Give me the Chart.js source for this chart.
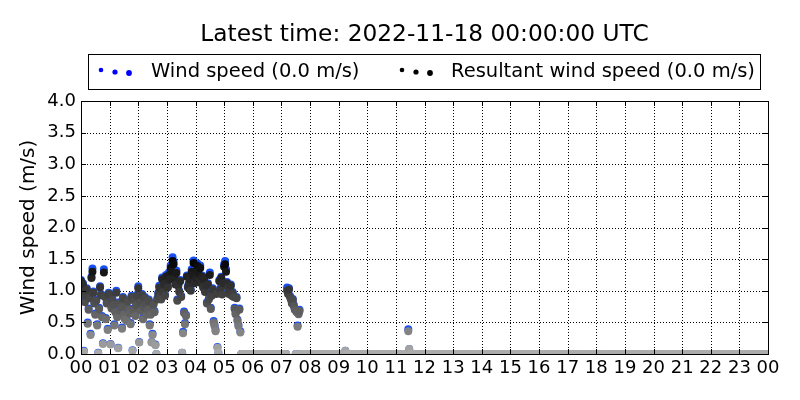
<!DOCTYPE html>
<html>
<head>
<meta charset="utf-8">
<title>Wind speed</title>
<script src="https://cdn.jsdelivr.net/npm/chart.js@4.4.1/dist/chart.umd.min.js"></script>
<style>
  html, body { margin: 0; padding: 0; background: #fff; }
  #wrap { position: relative; width: 800px; height: 400px; }
</style>
</head>
<body>
<div id="wrap"><canvas id="windChart" width="800" height="400"></canvas></div>
<script>
const titleText = 'Latest time: 2022-11-18 00:00:00 UTC';
const windLabel = 'Wind speed (0.0 m/s)';
const resultantLabel = 'Resultant wind speed (0.0 m/s)';
const yAxisLabel = 'Wind speed (m/s)';
const hourLabels = ['00', '01', '02', '03', '04', '05', '06', '07', '08', '09', '10', '11',
  '12', '13', '14', '15', '16', '17', '18', '19', '20', '21', '22', '23', '00'];
const yTickValues = [0, 0.5, 1, 1.5, 2, 2.5, 3, 3.5, 4];
const sampleMinutes = 2; // one value every 2 minutes, one row per hour

// wind speed (m/s)
const windSpeed = [
  1.17, 1.00, 1.12, 0.05, 0.84, 0.94, 1.04, 0.50, 0.72, 0.90, 0.32, 1.22, 1.35, 0.99, 0.82, 0.64, 0.86, 0.47, 0.02, 0.73, 1.07, 0.95, 0.60, 0.17, 1.34, 0.92, 0.57, 0.82, 0.40, 0.97,
  0.95, 0.16, 0.74, 0.87, 0.80, 0.47, 0.68, 1.00, 0.60, 0.10, 0.82, 0.70, 0.76, 0.42, 0.90, 0.64, 0.57, 0.77, 0.54, 0.85, 0.72, 0.66, 0.49, 0.92, 0.06, 0.72, 0.86, 0.62, 0.79, 0.94,
  1.07, 0.19, 0.84, 0.70, 0.95, 0.57, 0.76, 0.90, 0.81, 0.64, 0.72, 0.86, 0.47, 0.64, 0.19, 0.32, 0.80, 0.68, 0.15, 0.00, 0.88, 0.97, 1.08, 0.92, 0.88, 1.21, 1.00, 1.12, 0.94, 1.25,
  1.14, 1.07, 1.29, 1.20, 1.40, 1.34, 1.53, 1.46, 1.22, 1.12, 1.32, 0.86, 1.10, 1.00, 1.17, 0.92, 0.02, 0.35, 0.67, 0.49, 0.62, 1.24, 1.07, 1.12, 1.20, 1.02, 1.34, 1.29, 1.48, 1.14,
  1.29, 1.22, 1.43, 1.32, 1.17, 1.40, 1.14, 1.24, 1.07, 1.20, 1.00, 1.10, 0.82, 1.12, 0.88, 1.29, 0.73, 0.94, 1.04, 0.52, 0.46, 0.38, 0.97, 0.11, 0.02, 1.17, 1.04, 1.22, 0.96, 1.14,
  1.42, 1.47, 1.34, 1.14, 1.07, 0.97, 1.02, 1.10, 0.94, 0.98, 0.92, 0.73, 0.65, 0.90, 0.54, 0.46, 0.72, 0.36, 0, 0, 0, 0, 0, 0, 0, 0, 0, 0, 0, 0,
  0, 0, 0, 0, 0, 0, 0, 0, 0, 0, 0, 0, 0, 0, 0, 0, 0, 0, 0, 0, 0, 0, 0, 0, 0, 0, 0, 0, 0, 0,
  0, 0, 0, 0, 0, 0, 1.05, 0.97, 1.04, 0.92, 0.88, 0.82, 0.87, 0.78, 0.72, 0, 0.68, 0.45, 0.65, 0.70, 0, 0, 0, 0, 0, 0, 0, 0, 0, 0,
  0, 0, 0, 0, 0, 0, 0, 0, 0, 0, 0, 0, 0, 0, 0, 0, 0, 0, 0, 0, 0, 0, 0, 0, 0, 0, 0, 0, 0, 0,
  0, 0, 0, 0, 0, 0, 0, 0.05, 0, 0, 0, 0, 0, 0, 0, 0, 0, 0, 0, 0, 0, 0, 0, 0, 0, 0, 0, 0, 0, 0,
  0, 0, 0, 0, 0, 0, 0, 0, 0, 0, 0, 0, 0, 0, 0, 0, 0, 0, 0, 0, 0, 0, 0, 0, 0, 0, 0, 0, 0, 0,
  0, 0, 0, 0, 0, 0, 0, 0, 0, 0, 0, 0, 0, 0.39, 0.08, 0, 0, 0, 0, 0, 0, 0, 0, 0, 0, 0, 0, 0, 0, 0,
  0, 0, 0, 0, 0, 0, 0, 0, 0, 0, 0, 0, 0, 0, 0, 0, 0, 0, 0, 0, 0, 0, 0, 0, 0, 0, 0, 0, 0, 0,
  0, 0, 0, 0, 0, 0, 0, 0, 0, 0, 0, 0, 0, 0, 0, 0, 0, 0, 0, 0, 0, 0, 0, 0, 0, 0, 0, 0, 0, 0,
  0, 0, 0, 0, 0, 0, 0, 0, 0, 0, 0, 0, 0, 0, 0, 0, 0, 0, 0, 0, 0, 0, 0, 0, 0, 0, 0, 0, 0, 0,
  0, 0, 0, 0, 0, 0, 0, 0, 0, 0, 0, 0, 0, 0, 0, 0, 0, 0, 0, 0, 0, 0, 0, 0, 0, 0, 0, 0, 0, 0,
  0, 0, 0, 0, 0, 0, 0, 0, 0, 0, 0, 0, 0, 0, 0, 0, 0, 0, 0, 0, 0, 0, 0, 0, 0, 0, 0, 0, 0, 0,
  0, 0, 0, 0, 0, 0, 0, 0, 0, 0, 0, 0, 0, 0, 0, 0, 0, 0, 0, 0, 0, 0, 0, 0, 0, 0, 0, 0, 0, 0,
  0, 0, 0, 0, 0, 0, 0, 0, 0, 0, 0, 0, 0, 0, 0, 0, 0, 0, 0, 0, 0, 0, 0, 0, 0, 0, 0, 0, 0, 0,
  0, 0, 0, 0, 0, 0, 0, 0, 0, 0, 0, 0, 0, 0, 0, 0, 0, 0, 0, 0, 0, 0, 0, 0, 0, 0, 0, 0, 0, 0,
  0, 0, 0, 0, 0, 0, 0, 0, 0, 0, 0, 0, 0, 0, 0, 0, 0, 0, 0, 0, 0, 0, 0, 0, 0, 0, 0, 0, 0, 0,
  0, 0, 0, 0, 0, 0, 0, 0, 0, 0, 0, 0, 0, 0, 0, 0, 0, 0, 0, 0, 0, 0, 0, 0, 0, 0, 0, 0, 0, 0,
  0, 0, 0, 0, 0, 0, 0, 0, 0, 0, 0, 0, 0, 0, 0, 0, 0, 0, 0, 0, 0, 0, 0, 0, 0, 0, 0, 0, 0, 0,
  0, 0, 0, 0, 0, 0, 0, 0, 0, 0, 0, 0, 0, 0, 0, 0, 0, 0, 0, 0, 0, 0, 0, 0, 0, 0, 0, 0, 0, 0,
];

// resultant wind speed (m/s)
const resultantSpeed = [
  1.15, 0.98, 1.10, 0.04, 0.82, 0.92, 1.02, 0.48, 0.70, 0.88, 0.30, 1.20, 1.30, 0.97, 0.80, 0.62, 0.84, 0.45, 0.01, 0.71, 1.05, 0.93, 0.58, 0.16, 1.29, 0.90, 0.55, 0.80, 0.38, 0.95,
  0.93, 0.15, 0.72, 0.85, 0.78, 0.45, 0.66, 0.97, 0.58, 0.09, 0.80, 0.68, 0.74, 0.40, 0.88, 0.62, 0.55, 0.75, 0.52, 0.83, 0.70, 0.64, 0.47, 0.90, 0.05, 0.70, 0.84, 0.60, 0.77, 0.92,
  1.04, 0.18, 0.82, 0.68, 0.93, 0.55, 0.74, 0.88, 0.79, 0.62, 0.70, 0.84, 0.45, 0.62, 0.18, 0.30, 0.78, 0.66, 0.14, 0.00, 0.86, 0.95, 1.05, 0.90, 0.86, 1.18, 0.98, 1.10, 0.92, 1.22,
  1.12, 1.05, 1.25, 1.18, 1.36, 1.30, 1.47, 1.42, 1.20, 1.10, 1.28, 0.84, 1.08, 0.98, 1.15, 0.90, 0.02, 0.33, 0.65, 0.47, 0.60, 1.22, 1.05, 1.10, 1.18, 1.00, 1.30, 1.25, 1.44, 1.12,
  1.25, 1.20, 1.39, 1.28, 1.15, 1.36, 1.12, 1.22, 1.05, 1.18, 0.98, 1.08, 0.80, 1.10, 0.86, 1.25, 0.71, 0.92, 1.02, 0.50, 0.44, 0.36, 0.95, 0.10, 0.02, 1.15, 1.02, 1.20, 0.94, 1.12,
  1.38, 1.42, 1.30, 1.12, 1.05, 0.95, 1.00, 1.08, 0.92, 0.96, 0.90, 0.71, 0.63, 0.88, 0.52, 0.44, 0.70, 0.34, 0, 0, 0, 0, 0, 0, 0, 0, 0, 0, 0, 0,
  0, 0, 0, 0, 0, 0, 0, 0, 0, 0, 0, 0, 0, 0, 0, 0, 0, 0, 0, 0, 0, 0, 0, 0, 0, 0, 0, 0, 0, 0,
  0, 0, 0, 0, 0, 0, 1.00, 0.95, 1.02, 0.90, 0.86, 0.80, 0.85, 0.76, 0.70, 0, 0.66, 0.43, 0.63, 0.68, 0, 0, 0, 0, 0, 0, 0, 0, 0, 0,
  0, 0, 0, 0, 0, 0, 0, 0, 0, 0, 0, 0, 0, 0, 0, 0, 0, 0, 0, 0, 0, 0, 0, 0, 0, 0, 0, 0, 0, 0,
  0, 0, 0, 0, 0, 0, 0, 0.05, 0, 0, 0, 0, 0, 0, 0, 0, 0, 0, 0, 0, 0, 0, 0, 0, 0, 0, 0, 0, 0, 0,
  0, 0, 0, 0, 0, 0, 0, 0, 0, 0, 0, 0, 0, 0, 0, 0, 0, 0, 0, 0, 0, 0, 0, 0, 0, 0, 0, 0, 0, 0,
  0, 0, 0, 0, 0, 0, 0, 0, 0, 0, 0, 0, 0, 0.36, 0.08, 0, 0, 0, 0, 0, 0, 0, 0, 0, 0, 0, 0, 0, 0, 0,
  0, 0, 0, 0, 0, 0, 0, 0, 0, 0, 0, 0, 0, 0, 0, 0, 0, 0, 0, 0, 0, 0, 0, 0, 0, 0, 0, 0, 0, 0,
  0, 0, 0, 0, 0, 0, 0, 0, 0, 0, 0, 0, 0, 0, 0, 0, 0, 0, 0, 0, 0, 0, 0, 0, 0, 0, 0, 0, 0, 0,
  0, 0, 0, 0, 0, 0, 0, 0, 0, 0, 0, 0, 0, 0, 0, 0, 0, 0, 0, 0, 0, 0, 0, 0, 0, 0, 0, 0, 0, 0,
  0, 0, 0, 0, 0, 0, 0, 0, 0, 0, 0, 0, 0, 0, 0, 0, 0, 0, 0, 0, 0, 0, 0, 0, 0, 0, 0, 0, 0, 0,
  0, 0, 0, 0, 0, 0, 0, 0, 0, 0, 0, 0, 0, 0, 0, 0, 0, 0, 0, 0, 0, 0, 0, 0, 0, 0, 0, 0, 0, 0,
  0, 0, 0, 0, 0, 0, 0, 0, 0, 0, 0, 0, 0, 0, 0, 0, 0, 0, 0, 0, 0, 0, 0, 0, 0, 0, 0, 0, 0, 0,
  0, 0, 0, 0, 0, 0, 0, 0, 0, 0, 0, 0, 0, 0, 0, 0, 0, 0, 0, 0, 0, 0, 0, 0, 0, 0, 0, 0, 0, 0,
  0, 0, 0, 0, 0, 0, 0, 0, 0, 0, 0, 0, 0, 0, 0, 0, 0, 0, 0, 0, 0, 0, 0, 0, 0, 0, 0, 0, 0, 0,
  0, 0, 0, 0, 0, 0, 0, 0, 0, 0, 0, 0, 0, 0, 0, 0, 0, 0, 0, 0, 0, 0, 0, 0, 0, 0, 0, 0, 0, 0,
  0, 0, 0, 0, 0, 0, 0, 0, 0, 0, 0, 0, 0, 0, 0, 0, 0, 0, 0, 0, 0, 0, 0, 0, 0, 0, 0, 0, 0, 0,
  0, 0, 0, 0, 0, 0, 0, 0, 0, 0, 0, 0, 0, 0, 0, 0, 0, 0, 0, 0, 0, 0, 0, 0, 0, 0, 0, 0, 0, 0,
  0, 0, 0, 0, 0, 0, 0, 0, 0, 0, 0, 0, 0, 0, 0, 0, 0, 0, 0, 0, 0, 0, 0, 0, 0, 0, 0, 0, 0, 0,
];

const FONT = '"DejaVu Sans", "Liberation Sans", sans-serif';
const windColor = 'rgb(25, 80, 245)';

// darker grey for stronger resultant wind
function greyFor(value) {
  const g = Math.max(0, Math.min(172, Math.round(172 - 115 * value)));
  return `rgb(${g}, ${g}, ${g})`;
}

const toPoints = (values) => values.map((v, i) => ({ x: (i * sampleMinutes) / 60, y: v }));
const windPoints = toPoints(windSpeed);
const resultantPoints = toPoints(resultantSpeed);
const resultantColors = resultantSpeed.map(greyFor);

const decorPlugin = {
  id: 'decor',
  beforeDatasetsDraw(chart) {
    const { ctx, chartArea: a, scales: { x, y } } = chart;
    ctx.save();
    ctx.strokeStyle = '#000';
    ctx.lineWidth = 1;
    ctx.setLineDash([1, 2]);
    ctx.beginPath();
    hourLabels.forEach((_, h) => {
      const px = Math.round(x.getPixelForValue(h)) + 0.5;
      if (px <= a.left + 1 || px >= a.right - 1) return;
      ctx.moveTo(px, a.top);
      ctx.lineTo(px, a.bottom);
    });
    yTickValues.forEach((v) => {
      const py = Math.round(y.getPixelForValue(v)) + 0.5;
      if (py <= a.top + 1 || py >= a.bottom - 1) return;
      ctx.moveTo(a.left, py);
      ctx.lineTo(a.right, py);
    });
    ctx.stroke();
    ctx.restore();
  },
  afterDatasetsDraw(chart) {
    const { ctx, chartArea: a, scales: { x, y } } = chart;
    ctx.save();
    ctx.strokeStyle = '#000';
    ctx.lineWidth = 1;
    ctx.beginPath();
    // inward tick marks on all four sides
    hourLabels.forEach((_, h) => {
      const px = Math.round(x.getPixelForValue(h)) + 0.5;
      ctx.moveTo(px, a.bottom);
      ctx.lineTo(px, a.bottom - 5);
      ctx.moveTo(px, a.top);
      ctx.lineTo(px, a.top + 5);
    });
    yTickValues.forEach((v) => {
      const py = Math.round(y.getPixelForValue(v)) + 0.5;
      ctx.moveTo(a.left, py);
      ctx.lineTo(a.left + 5, py);
      ctx.moveTo(a.right, py);
      ctx.lineTo(a.right - 5, py);
    });
    ctx.stroke();
    ctx.strokeRect(Math.round(a.left) + 0.5, Math.round(a.top) + 0.5,
      Math.round(a.right - a.left), Math.round(a.bottom - a.top));
    ctx.restore();
  },
  afterDraw(chart) {
    const { ctx, chartArea: a } = chart;
    ctx.save();
    ctx.fillStyle = '#000';
    // title
    ctx.font = `23.3px ${FONT}`;
    ctx.textAlign = 'center';
    ctx.textBaseline = 'middle';
    ctx.fillText(titleText, (a.left + a.right) / 2, 35);
    // legend box
    ctx.strokeStyle = '#000';
    ctx.lineWidth = 1;
    ctx.strokeRect(88.5, 54.5, 672, 35);
    const drawMarkers = (x0, color) => {
      ctx.fillStyle = color;
      [[0, 70, 2.3], [14, 72, 2.6], [28, 73, 2.9]].forEach(([dx, cy, r]) => {
        ctx.beginPath();
        ctx.arc(x0 + dx, cy, r, 0, Math.PI * 2);
        ctx.fill();
      });
    };
    drawMarkers(101, 'rgb(0, 0, 255)');
    drawMarkers(402, '#000');
    ctx.fillStyle = '#000';
    ctx.font = `19.5px ${FONT}`;
    ctx.textAlign = 'left';
    ctx.fillText(windLabel, 151, 72);
    ctx.fillText(resultantLabel, 451, 72);
    // y axis title
    ctx.font = `20px ${FONT}`;
    ctx.textAlign = 'center';
    ctx.translate(29, (a.top + a.bottom) / 2);
    ctx.rotate(-Math.PI / 2);
    ctx.fillText(yAxisLabel, 0, 0);
    ctx.restore();
  },
};

const ctx = document.getElementById('windChart').getContext('2d');
new Chart(ctx, {
  type: 'scatter',
  data: {
    // the first dataset is painted last, so resultant grey dots sit over the blue ones
    datasets: [
      {
        label: resultantLabel,
        data: resultantPoints,
        pointRadius: 4,
        pointHoverRadius: 4,
        pointBorderWidth: 0,
        pointBackgroundColor: resultantColors,
        pointBorderColor: resultantColors,
        clip: 0,
      },
      {
        label: windLabel,
        data: windPoints,
        pointRadius: 4,
        pointHoverRadius: 4,
        pointBorderWidth: 0,
        pointBackgroundColor: windColor,
        pointBorderColor: windColor,
        clip: 0,
      },
    ],
  },
  options: {
    responsive: false,
    animation: false,
    events: [],
    layout: {
      padding: { top: 101, right: 32, left: 0, bottom: 0 },
    },
    plugins: {
      legend: { display: false },
      title: { display: false },
      tooltip: { enabled: false },
    },
    scales: {
      x: {
        type: 'linear',
        min: 0,
        max: 24,
        afterFit(scale) {
          scale.height = 46;
        },
        afterBuildTicks(scale) {
          scale.ticks = hourLabels.map((_, h) => ({ value: h }));
        },
        ticks: {
          color: '#000',
          font: { family: FONT, size: 18 },
          padding: 4,
          maxRotation: 0,
          autoSkip: false,
          callback(value) {
            return hourLabels[value];
          },
        },
        grid: { display: false, drawTicks: false },
        border: { display: false },
      },
      y: {
        min: 0,
        max: 4,
        afterFit(scale) {
          scale.width = 81;
        },
        afterBuildTicks(scale) {
          scale.ticks = yTickValues.map((v) => ({ value: v }));
        },
        ticks: {
          color: '#000',
          font: { family: FONT, size: 18 },
          padding: 5,
          callback(value) {
            return Number(value).toFixed(1);
          },
        },
        grid: { display: false, drawTicks: false },
        border: { display: false },
      },
    },
  },
  plugins: [decorPlugin],
});
</script>
</body>
</html>
